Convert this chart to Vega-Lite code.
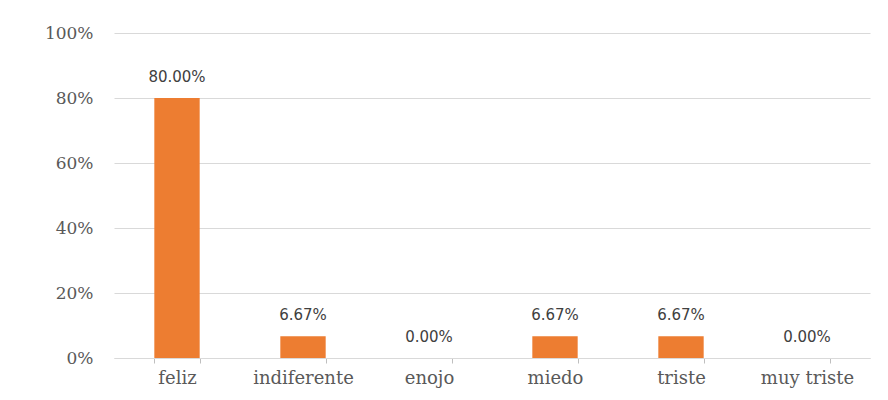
{
  "$schema": "https://vega.github.io/schema/vega-lite/v6.json",
  "autosize": "none",
  "width": 756,
  "height": 325,
  "padding": {"left": 114, "top": 33, "right": 18, "bottom": 42},
  "background": "white",
  "config": {"view": {"stroke": null}},
  "data": {"values": [
    {"emocion": "feliz", "pct": 0.80},
    {"emocion": "indiferente", "pct": 0.0667},
    {"emocion": "enojo", "pct": 0.0},
    {"emocion": "miedo", "pct": 0.0667},
    {"emocion": "triste", "pct": 0.0667},
    {"emocion": "muy triste", "pct": 0.0}
  ]},
  "encoding": {
    "x": {
      "field": "emocion", "type": "nominal", "sort": null,
      "scale": {"paddingInner": 0.64, "paddingOuter": 0.32},
      "axis": {
        "title": null, "labelAngle": 0, "labelFont": "DejaVu Serif", "labelFontSize": 18,
        "labelColor": "#595959", "labelPadding": 6, "tickBand": "extent", "tickSize": 5,
        "tickColor": "#BFBFBF", "domainColor": "#D9D9D9", "grid": false
      }
    },
    "y": {
      "field": "pct", "type": "quantitative",
      "scale": {"domain": [0, 1]},
      "axis": {
        "title": null, "format": ".0%", "values": [0, 0.2, 0.4, 0.6, 0.8, 1],
        "labelFont": "DejaVu Serif", "labelFontSize": 17, "labelColor": "#595959",
        "labelPadding": 21, "ticks": false, "domain": false,
        "gridColor": "#D9D9D9", "gridWidth": 1
      }
    }
  },
  "layer": [
    {"mark": {"type": "bar", "color": "#ED7D31"}},
    {
      "mark": {"type": "text", "font": "DejaVu Sans", "fontSize": 15, "color": "#404040", "baseline": "alphabetic", "dy": -16},
      "encoding": {"text": {"field": "pct", "type": "quantitative", "format": ".2%"}}
    }
  ]
}
